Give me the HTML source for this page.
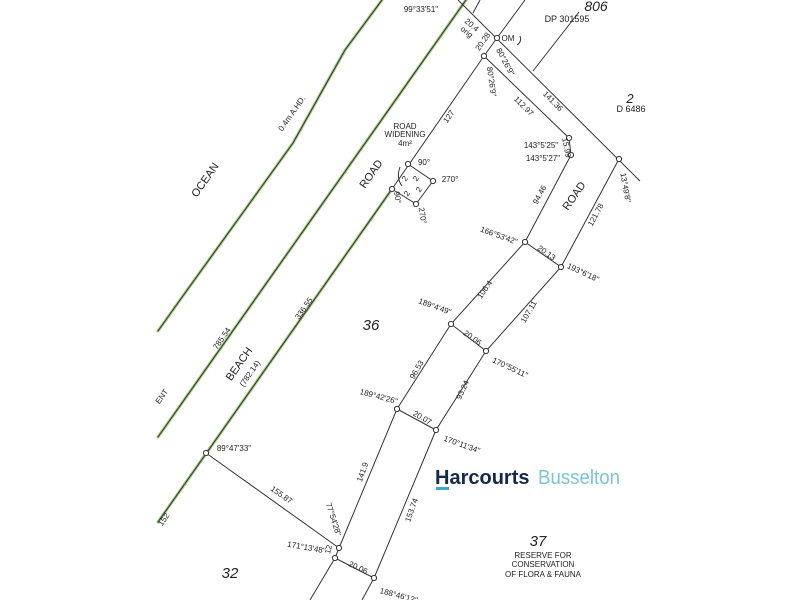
<!DOCTYPE html>
<html><head><meta charset="utf-8"><style>
html,body{margin:0;padding:0;background:#fff;}
svg{display:block;}
text{font-family:"Liberation Sans",sans-serif;fill:#222;}
.s{font-size:8px;}
.m{font-size:11px;}
</style></head><body>
<svg width="800" height="600" viewBox="0 0 800 600" xmlns="http://www.w3.org/2000/svg">
<rect width="800" height="600" fill="#fff"/>
<g fill="none" stroke-linecap="round">
<polyline points="382,0 345,50 293,143 180,300 158,331" stroke="#9cc97a" stroke-width="3"/>
<polyline points="382,0 345,50 293,143 180,300 158,331" stroke="#333" stroke-width="1"/>
<line x1="466" y1="0" x2="158" y2="437" stroke="#9cc97a" stroke-width="3"/>
<line x1="466" y1="0" x2="158" y2="437" stroke="#333" stroke-width="1"/>
<line x1="392" y1="189" x2="158" y2="522" stroke="#9cc97a" stroke-width="3"/>
<line x1="392" y1="189" x2="158" y2="522" stroke="#333" stroke-width="1"/>
</g>
<g fill="none" stroke="#333" stroke-width="1">
<line x1="484" y1="56" x2="392" y2="189"/>
<polyline points="408,164 433,181 416,204 392,189"/>
<line x1="458" y1="0" x2="640" y2="181"/>
<line x1="497" y1="38" x2="525" y2="0"/>
<line x1="497" y1="38" x2="484" y2="56"/>
<line x1="533" y1="71" x2="579" y2="12"/>
<line x1="473" y1="13" x2="480" y2="0"/>
<polyline points="484,56 569,138 571,155 525,242 451,324 397,409 339,548 335,558 310,600"/>
<polyline points="619,159 561,267 486,351 436,430 374,578 362,600"/>
<line x1="525" y1="242" x2="561" y2="267"/>
<line x1="451" y1="324" x2="486" y2="351"/>
<line x1="397" y1="409" x2="436" y2="430"/>
<line x1="335" y1="558" x2="374" y2="578"/>
<line x1="206" y1="453" x2="339" y2="548"/>
<path d="M400,167 Q396,178 402,186"/>
<path d="M520,36 Q522,42 517,45"/>
</g>
<g fill="#fff" stroke="#333" stroke-width="1">
<circle cx="497" cy="38" r="2.6"/><circle cx="484" cy="56" r="2.6"/>
<circle cx="408" cy="164" r="2.6"/><circle cx="433" cy="181" r="2.6"/>
<circle cx="416" cy="204" r="2.6"/><circle cx="392" cy="189" r="2.6"/>
<circle cx="569" cy="138" r="2.6"/><circle cx="571" cy="155" r="2.6"/>
<circle cx="619" cy="159" r="2.6"/><circle cx="525" cy="242" r="2.6"/>
<circle cx="561" cy="267" r="2.6"/><circle cx="451" cy="324" r="2.6"/>
<circle cx="486" cy="351" r="2.6"/><circle cx="397" cy="409" r="2.6"/>
<circle cx="436" cy="430" r="2.6"/><circle cx="206" cy="453" r="2.6"/>
<circle cx="339" cy="548" r="2.6"/><circle cx="335" cy="558" r="2.6"/>
<circle cx="374" cy="578" r="2.6"/>
</g>
<g class="s" text-anchor="middle">
<text x="421" y="12">99°33'51"</text>
<text transform="translate(470,27) rotate(40)">20.4</text>
<text transform="translate(465,34) rotate(40)">orig</text>
<text transform="translate(485,43) rotate(-55)">20.28</text>
<text x="508" y="41">OM</text>
<text transform="translate(503,63) rotate(62)">80°26'9"</text>
<text transform="translate(489,82) rotate(82)">80°26'9"</text>
<text transform="translate(451,118) rotate(-55)">127</text>
<text transform="translate(522,108) rotate(45)">112.97</text>
<text transform="translate(551,103) rotate(45)">141.36</text>
<text x="405" y="129">ROAD</text>
<text x="405" y="137">WIDENING</text>
<text x="405" y="146">4m²</text>
<text x="424" y="165">90°</text>
<text x="450" y="182">270°</text>
<text transform="translate(420,216) rotate(80)">270°</text>
<text transform="translate(395,198) rotate(80)">90°</text>
<text transform="translate(407,180) rotate(-55)">2</text>
<text transform="translate(418,180) rotate(-55)">2</text>
<text transform="translate(409,195) rotate(-55)">2</text>
<text transform="translate(421,191) rotate(-55)">2</text>
<text x="541" y="148">143°5'25"</text>
<text x="543" y="161">143°5'27"</text>
<text transform="translate(564,148) rotate(80)">15.99</text>
<text transform="translate(542,196) rotate(-62)">94.46</text>
<text transform="translate(598,216) rotate(-62)">121.78</text>
<text transform="translate(623,188) rotate(80)">13°49'8"</text>
<text transform="translate(498,238) rotate(20)">166°53'42"</text>
<text transform="translate(545,255) rotate(35)">20.13</text>
<text transform="translate(582,275) rotate(25)">193°6'18"</text>
<text transform="translate(487,291) rotate(-55)">106.4</text>
<text transform="translate(531,313) rotate(-60)">107.11</text>
<text transform="translate(434,309) rotate(20)">189°4'49"</text>
<text transform="translate(471,340) rotate(35)">20.06</text>
<text transform="translate(509,370) rotate(25)">170°55'11"</text>
<text transform="translate(419,371) rotate(-60)">96.53</text>
<text transform="translate(465,391) rotate(-65)">93.24</text>
<text transform="translate(378,399) rotate(15)">189°42'26"</text>
<text transform="translate(421,420) rotate(30)">20.07</text>
<text transform="translate(461,447) rotate(20)">170°11'34"</text>
<text x="234" y="451">89°47'33"</text>
<text transform="translate(280,497) rotate(35)">155.87</text>
<text transform="translate(365,473) rotate(-70)">141.9</text>
<text transform="translate(414,511) rotate(-70)">153.74</text>
<text transform="translate(331,520) rotate(72)">77°54'28"</text>
<text transform="translate(331,550) rotate(-75)">12</text>
<text transform="translate(306,550) rotate(10)">171°13'48"</text>
<text transform="translate(357,570) rotate(25)">20.06</text>
<text transform="translate(398,598) rotate(15)">188°46'12"</text>
<text transform="translate(224,340) rotate(-55)">785.54</text>
<text transform="translate(252,375) rotate(-55)">(782.14)</text>
<text transform="translate(306,310) rotate(-55)">336.55</text>
<text transform="translate(164,398) rotate(-55)">ENT</text>
<text transform="translate(166,521) rotate(-55)">152</text>
<text transform="translate(294,115) rotate(-55)">0.4m A.HD.</text>
<text x="567" y="22" font-size="9">DP 301595</text>
<text x="631" y="112" font-size="9">D 6486</text>
<text x="543" y="558">RESERVE FOR</text>
<text x="543" y="567">CONSERVATION</text>
<text x="543" y="577">OF FLORA &amp; FAUNA</text>
</g>
<g class="m" text-anchor="middle">
<text transform="translate(374,176) rotate(-55)">ROAD</text>
<text transform="translate(577,198) rotate(-55)">ROAD</text>
<text transform="translate(242,366) rotate(-55)">BEACH</text>
<text transform="translate(208,182) rotate(-55)">OCEAN</text>
</g>
<g font-style="italic" text-anchor="middle">
<text x="596" y="11" font-size="14">806</text>
<text x="630" y="103" font-size="13">2</text>
<text x="371" y="330" font-size="15">36</text>
<text x="538" y="546" font-size="15">37</text>
<text x="230" y="578" font-size="15">32</text>
</g>
<text x="435" y="484" font-size="20" font-weight="bold" style="fill:#14284a">Harcourts</text>
<text x="538" y="484" font-size="20" textLength="82" lengthAdjust="spacingAndGlyphs" style="fill:#7cc4d6">Busselton</text>
<rect x="436" y="487" width="13" height="3" fill="#3aa8c8"/>
</svg>
</body></html>
